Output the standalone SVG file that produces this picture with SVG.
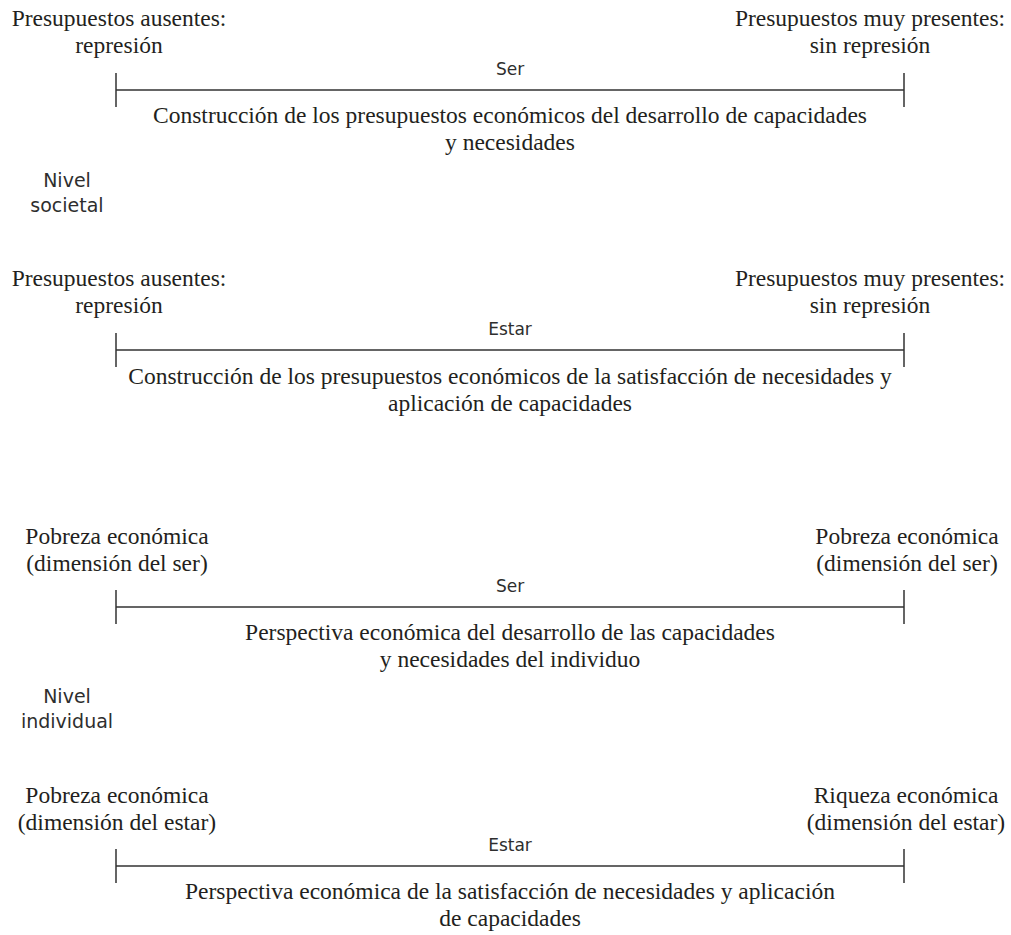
<svg xmlns="http://www.w3.org/2000/svg" width="1011" height="935" viewBox="0 0 1011 935">
<style>
.s{font-family:"Liberation Serif","Times New Roman",serif;font-size:23.5px;fill:#231f20;text-anchor:middle}
.g{font-family:"DejaVu Sans","Noto Sans",sans-serif;font-size:17px;fill:#2e2e2e;text-anchor:middle}
.n{font-family:"DejaVu Sans","Noto Sans",sans-serif;font-size:19px;fill:#2e2e2e;text-anchor:middle}
.ln{stroke:#333;stroke-width:1.5;fill:none}
</style>
<rect width="1011" height="935" fill="#fff"/>
<g id="connectors">
<path class="ln" d="M116 90H904M116 73V107M904 73V107"/>
<path class="ln" d="M116 350H904M116 333V367M904 333V367"/>
<path class="ln" d="M116 607H904M116 590V624M904 590V624"/>
<path class="ln" d="M116 866H904M116 849V883M904 849V883"/>
</g>
<g id="block1">
<text class="s" x="119" y="26">Presupuestos ausentes:</text>
<text class="s" x="119" y="53">represión</text>
<text class="s" x="870" y="26">Presupuestos muy presentes:</text>
<text class="s" x="870" y="53">sin represión</text>
<text class="g" x="510" y="75">Ser</text>
<text class="s" x="510" y="123">Construcción de los presupuestos económicos del desarrollo de capacidades</text>
<text class="s" x="510" y="150">y necesidades</text>
</g>
<g id="nivel-societal">
<text class="n" x="67" y="187">Nivel</text>
<text class="n" x="67" y="212">societal</text>
</g>
<g id="block2">
<text class="s" x="119" y="286">Presupuestos ausentes:</text>
<text class="s" x="119" y="313">represión</text>
<text class="s" x="870" y="286">Presupuestos muy presentes:</text>
<text class="s" x="870" y="313">sin represión</text>
<text class="g" x="510" y="335">Estar</text>
<text class="s" x="510" y="384">Construcción de los presupuestos económicos de la satisfacción de necesidades y</text>
<text class="s" x="510" y="411">aplicación de capacidades</text>
</g>
<g id="block3">
<text class="s" x="117" y="544">Pobreza económica</text>
<text class="s" x="117" y="571">(dimensión del ser)</text>
<text class="s" x="907" y="544">Pobreza económica</text>
<text class="s" x="907" y="571">(dimensión del ser)</text>
<text class="g" x="510" y="592">Ser</text>
<text class="s" x="510" y="640">Perspectiva económica del desarrollo de las capacidades</text>
<text class="s" x="510" y="667">y necesidades del individuo</text>
</g>
<g id="nivel-individual">
<text class="n" x="67" y="703">Nivel</text>
<text class="n" x="67" y="728">individual</text>
</g>
<g id="block4">
<text class="s" x="117" y="803">Pobreza económica</text>
<text class="s" x="117" y="830">(dimensión del estar)</text>
<text class="s" x="906" y="803">Riqueza económica</text>
<text class="s" x="906" y="830">(dimensión del estar)</text>
<text class="g" x="510" y="851">Estar</text>
<text class="s" x="510" y="899">Perspectiva económica de la satisfacción de necesidades y aplicación</text>
<text class="s" x="510" y="926">de capacidades</text>
</g>
</svg>
